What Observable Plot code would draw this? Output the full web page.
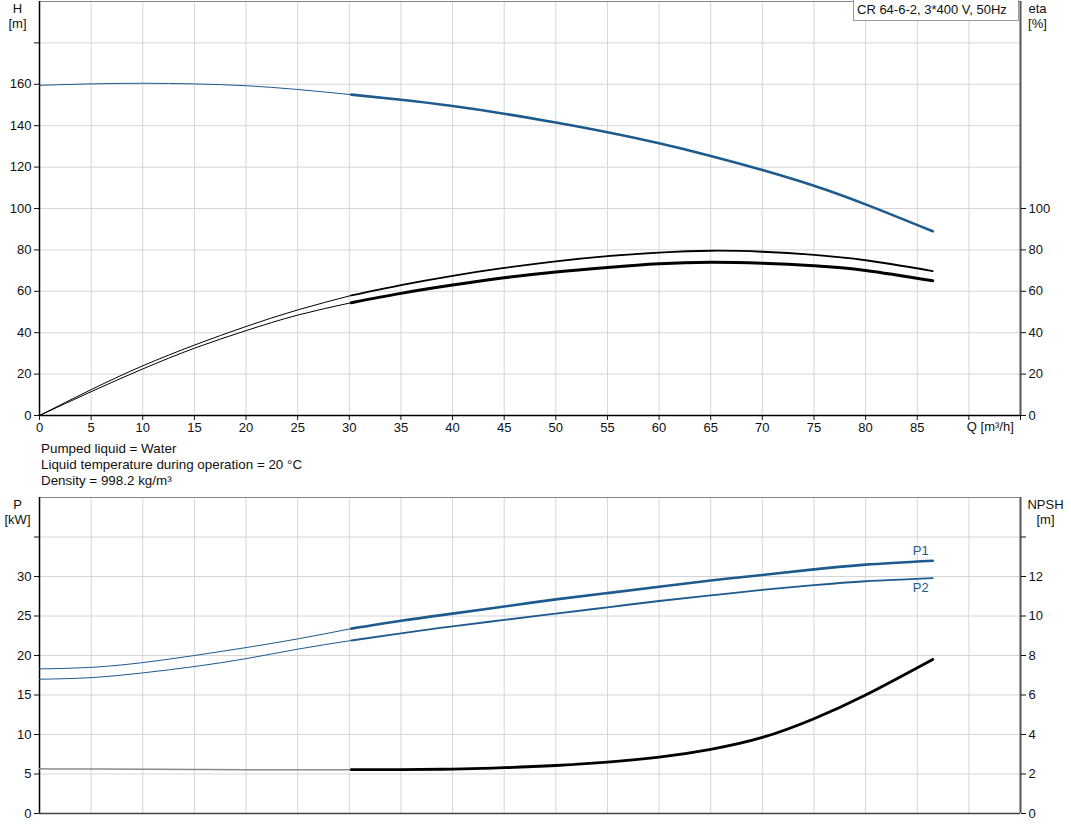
<!DOCTYPE html>
<html>
<head>
<meta charset="utf-8">
<script src="https://cdn.jsdelivr.net/npm/d3@7"></script>
<script src="https://cdn.jsdelivr.net/npm/@observablehq/plot@0.6"></script>
<style>
  html, body { margin: 0; padding: 0; background: #fff; }
  #wrap { position: relative; width: 1071px; height: 833px; font-family: Arial, "Liberation Sans", sans-serif; color: #111; overflow: hidden; }
  #top, #bottom { position: absolute; left: 0; }
  #top { top: 0; }
  #bottom { top: 490px; }
  #legend { position: absolute; left: 853px; top: 0px; width: 161px; height: 20px; border: 1px solid #999; border-top: none; background: #fff; font-size: 13px; line-height: 20px; padding-left: 3px; white-space: nowrap; }
  #info { position: absolute; left: 41px; top: 441px; font-size: 13.4px; line-height: 16px; }
</style>
</head>
<body>
<div id="wrap">
  <div id="top"></div>
  <div id="info"></div>
  <div id="bottom"></div>
  <div id="legend"></div>
</div>
<script>
// ---- data ----
const title = "CR 64-6-2, 3*400 V, 50Hz";
const infoLines = ["Pumped liquid = Water", "Liquid temperature during operation = 20 °C", "Density = 998.2 kg/m³"];
const Q     = [0, 5, 10, 15, 20, 25, 30.2, 35, 40, 45, 50, 55, 60, 65, 70, 75, 80, 86.5];
const H     = [159.5, 160.2, 160.5, 160.2, 159.3, 157.5, 155, 152.5, 149.5, 145.8, 141.5, 136.8, 131.5, 125.4, 118.6, 111.0, 102.0, 89];
const etaA  = [0, 12.5, 24, 34, 43, 51, 58, 63, 67.5, 71.3, 74.5, 77, 78.7, 79.6, 79.1, 77.6, 75.0, 69.8];
const etaB  = [0, 11.5, 22.5, 32.5, 41, 48.5, 54.5, 59, 63, 66.5, 69.3, 71.5, 73.3, 74.0, 73.5, 72.3, 70.1, 65.1];
const P1    = [18.3, 18.5, 19.1, 20.0, 21.0, 22.1, 23.4, 24.4, 25.3, 26.2, 27.1, 27.9, 28.7, 29.5, 30.2, 30.9, 31.5, 32.0];
const P2    = [17.0, 17.2, 17.8, 18.6, 19.6, 20.8, 21.9, 22.8, 23.7, 24.5, 25.3, 26.1, 26.9, 27.6, 28.3, 28.9, 29.4, 29.8];
const NPSH  = [2.26, 2.25, 2.24, 2.23, 2.22, 2.22, 2.22, 2.22, 2.25, 2.32, 2.43, 2.6, 2.85, 3.25, 3.85, 4.8, 6.0, 7.8];
const thickFrom = 30.2;
const xTicks = [0, 5, 10, 15, 20, 25, 30, 35, 40, 45, 50, 55, 60, 65, 70, 75, 80, 85, 90, 95];
const hTicks = [0, 20, 40, 60, 80, 100, 120, 140, 160, 180];
const etaTicks = [0, 20, 40, 60, 80, 100];
const pTicks = [0, 5, 10, 15, 20, 25, 30, 35];
const npshPerP = 0.4; // NPSH [m] axis: 2 m per 5 kW

const rows = Q.map((q, i) => ({q, h: H[i], ea: etaA[i], eb: etaB[i], p1: P1[i], p2: P2[i], npsh: NPSH[i]}));
const thin = rows.filter(d => d.q <= thickFrom);
const thick = rows.filter(d => d.q >= thickFrom);

const blue = "#1d5a8e";
const grid = "#d6d6d6";
const font = "Arial, 'Liberation Sans', sans-serif";
const fs = 13;
const curve = "natural";

document.getElementById("legend").textContent = title;
document.getElementById("info").innerHTML = infoLines.map(s => `<div>${s}</div>`).join("");

const topPlot = Plot.plot({
  width: 1071, height: 440,
  marginLeft: 39, marginRight: 51, marginTop: 1, marginBottom: 25,
  style: {fontFamily: font, fontSize: fs + "px", color: "#111", background: "white", overflow: "visible"},
  x: {domain: [0, 95]},
  y: {domain: [0, 200]},
  marks: [
    Plot.gridX(xTicks.filter(t => t > 0 && t < 95), {stroke: grid, strokeOpacity: 1}),
    Plot.gridY(hTicks.filter(t => t > 0).concat([200]), {stroke: grid, strokeOpacity: 1}),
    Plot.ruleY([200], {stroke: "#888", strokeWidth: 1}),
    Plot.ruleX([95], {stroke: "#555", strokeWidth: 2}),
    Plot.ruleX([0], {stroke: "#000", strokeWidth: 1.5}),
    Plot.ruleY([0], {stroke: "#000", strokeWidth: 1.5}),
    Plot.axisX({ticks: xTicks, tickSize: 5, tickPadding: 2, label: null, tickFormat: d => d <= 85 ? d : ""}),
    Plot.axisY({ticks: hTicks, tickSize: 5, tickPadding: 3, label: null, tickFormat: d => d <= 160 ? d : ""}),
    Plot.axisY({ticks: etaTicks, anchor: "right", tickSize: 5, tickPadding: 3, label: null}),
    Plot.text(["Q [m³/h]"], {x: 90, frameAnchor: "bottom", dy: 15, dx: -2, textAnchor: "start", fontSize: fs}),
    Plot.text(["H\n[m]"], {frameAnchor: "top-left", dx: -22, dy: 0, textAnchor: "middle", lineAnchor: "top", lineHeight: 1.2, fontSize: fs}),
    Plot.text(["eta\n[%]"], {frameAnchor: "top-right", dx: 17, dy: 0, textAnchor: "middle", lineAnchor: "top", lineHeight: 1.2, fontSize: fs}),
    // eta curves
    Plot.line(thin, {x: "q", y: "ea", stroke: "#000", strokeWidth: 1, curve}),
    Plot.line(thin, {x: "q", y: "eb", stroke: "#000", strokeWidth: 1, curve}),
    Plot.line(thick, {x: "q", y: "ea", stroke: "#000", strokeWidth: 1.8, curve}),
    Plot.line(thick, {x: "q", y: "eb", stroke: "#000", strokeWidth: 3, curve}),
    // H curve
    Plot.line(thin, {x: "q", y: "h", stroke: blue, strokeWidth: 1, curve}),
    Plot.line(thick, {x: "q", y: "h", stroke: blue, strokeWidth: 2.6, curve})
  ]
});
document.getElementById("top").appendChild(topPlot);

const bottomPlot = Plot.plot({
  width: 1071, height: 343,
  marginLeft: 39, marginRight: 51, marginTop: 7, marginBottom: 20,
  style: {fontFamily: font, fontSize: fs + "px", color: "#111", background: "white", overflow: "visible"},
  x: {domain: [0, 95], axis: null},
  y: {domain: [0, 40], axis: null},
  marks: [
    Plot.gridX(xTicks.filter(t => t > 0 && t < 95), {stroke: grid, strokeOpacity: 1}),
    Plot.gridY(pTicks.filter(t => t > 0), {stroke: grid, strokeOpacity: 1}),
    Plot.ruleY([40], {stroke: "#888", strokeWidth: 1}),
    Plot.ruleX([95], {stroke: "#555", strokeWidth: 2}),
    Plot.ruleX([0], {stroke: "#000", strokeWidth: 1.5}),
    Plot.ruleY([0], {stroke: "#444", strokeWidth: 1.5}),
    Plot.axisY({ticks: pTicks, tickSize: 5, tickPadding: 3, label: null, tickFormat: d => d <= 30 ? d : ""}),
    Plot.axisY({ticks: pTicks, anchor: "right", tickSize: 5, tickPadding: 3, label: null, tickFormat: d => d <= 30 ? Math.round(d * npshPerP) : ""}),
    Plot.text(["P\n[kW]"], {frameAnchor: "top-left", dx: -22, dy: 0, textAnchor: "middle", lineAnchor: "top", lineHeight: 1.2, fontSize: fs}),
    Plot.text(["NPSH\n[m]"], {frameAnchor: "top-right", dx: 25, dy: 0, textAnchor: "middle", lineAnchor: "top", lineHeight: 1.2, fontSize: fs}),
    // NPSH
    Plot.line(thin, {x: "q", y: d => d.npsh / npshPerP, stroke: "#8a8a8a", strokeWidth: 1.5, curve}),
    Plot.line(thick, {x: "q", y: d => d.npsh / npshPerP, stroke: "#000", strokeWidth: 2.8, curve}),
    // P1, P2
    Plot.line(thin, {x: "q", y: "p1", stroke: blue, strokeWidth: 1, curve}),
    Plot.line(thin, {x: "q", y: "p2", stroke: blue, strokeWidth: 1, curve}),
    Plot.line(thick, {x: "q", y: "p1", stroke: blue, strokeWidth: 2.6, curve}),
    Plot.line(thick, {x: "q", y: "p2", stroke: blue, strokeWidth: 1.8, curve}),
    Plot.text(rows, Plot.selectLast({x: "q", y: "p1", text: () => "P1", textAnchor: "end", dx: -4, dy: -10, fill: blue, fontSize: fs})),
    Plot.text(rows, Plot.selectLast({x: "q", y: "p2", text: () => "P2", textAnchor: "end", dx: -4, dy: 10, fill: blue, fontSize: fs}))
  ]
});
document.getElementById("bottom").appendChild(bottomPlot);
</script>
</body>
</html>
